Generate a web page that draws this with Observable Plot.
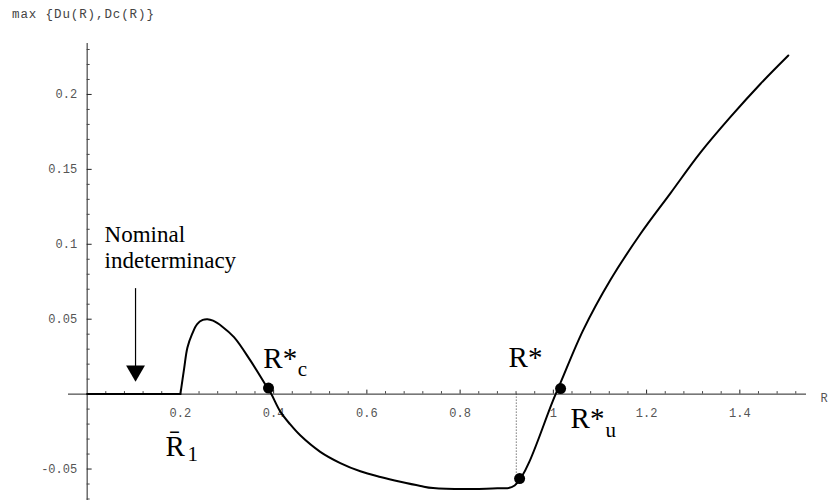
<!DOCTYPE html>
<html>
<head>
<meta charset="utf-8">
<script src="https://cdn.jsdelivr.net/npm/d3@7"></script>
<script src="https://cdn.jsdelivr.net/npm/@observablehq/plot@0.6"></script>
<style>
  html, body { margin: 0; padding: 0; background: #fff; }
  #wrap { position: relative; width: 833px; height: 502px; }
  #title { position: absolute; left: 12px; top: 7px; font-family: "Liberation Mono", "DejaVu Sans Mono", monospace; font-size: 12.5px; letter-spacing: 0.9px; color: #444; line-height: 16px; white-space: pre; }
</style>
</head>
<body>
<div id="wrap"><div id="title">max {Du(R),Dc(R)}</div></div>
<script>
// ---- data ----
const flatR = [0, 0.2];
const flatV = [0, 0];
const curveR = [0.2, 0.208, 0.215, 0.225, 0.236, 0.248, 0.258, 0.27, 0.29, 0.315, 0.35, 0.385, 0.395, 0.414, 0.435, 0.457, 0.5, 0.543, 0.586, 0.629, 0.672, 0.715, 0.742, 0.88, 0.917, 1.005, 1.064, 1.122, 1.187, 1.251, 1.315, 1.38, 1.444, 1.504];
const curveV = [0, 0.017, 0.031, 0.040, 0.0467, 0.0495, 0.050, 0.049, 0.045, 0.038, 0.0225, 0.005, 0, -0.0115, -0.020, -0.0275, -0.0385, -0.046, -0.0515, -0.0553, -0.0585, -0.0613, -0.0627, -0.0629, -0.061, 0, 0.0427, 0.076, 0.107, 0.134, 0.161, 0.185, 0.207, 0.226];

const pointR = [0.389, 0.9276, 1.0155];
const pointV = [0.004, -0.0564, 0.0037];

const xTickValues = [0.2, 0.4, 0.6, 0.8, 1, 1.2, 1.4];
const xTickLabels = ["0.2", "0.4", "0.6", "0.8", "1", "1.2", "1.4"];
const yTickValues = [-0.05, 0.05, 0.1, 0.15, 0.2];
const yTickLabels = ["-0.05", "0.05", "0.1", "0.15", "0.2"];

const labelText = ["Nominal", "indeterminacy", "R*", "R*", "R*", "R\u0304"];
const labelR    = [0.0373, 0.0373, 0.378, 0.904, 1.037, 0.168];
const labelV    = [0.1065, 0.0891, 0.0239, 0.0246, -0.0162, -0.0348];
const labelSize = [23, 23, 29, 29, 29, 29];

const subText = ["c", "u", "1"];
const subR    = [0.452, 1.112, 0.2154];
const subV    = [0.0168, -0.0244, -0.0401];

const dottedR = 0.9205;
const dottedBottom = -0.0608;
const arrowR = 0.1038;
const arrowTop = 0.0704;
const arrowHeadCenter = 0.0155;

// ---- layout ----
const W = 833, H = 502, mL = 68, mR = 27, mT = 43, mB = 2;
const xDom = [-0.04, 1.543], yDom = [-0.071, 0.234];
const kx = (xDom[1] - xDom[0]) / (W - mL - mR);   // data per px
const ky = (yDom[1] - yDom[0]) / (H - mT - mB);

const flat = flatR.map((r, i) => ({r, v: flatV[i]}));
const curve = curveR.map((r, i) => ({r, v: curveV[i]}));
const points = pointR.map((r, i) => ({r, v: pointV[i]}));
const labels = labelText.map((t, i) => ({t, r: labelR[i], v: labelV[i], s: labelSize[i]}));
const subs = subText.map((t, i) => ({t, r: subR[i], v: subV[i]}));
const xMinor = d3.range(1, 39).map(i => +(i * 0.04).toFixed(2)).filter(v => Math.abs(v / 0.2 - Math.round(v / 0.2)) > 1e-6);
const yMinor = d3.range(-7, 24).map(i => +(i * 0.01).toFixed(2)).filter(v => v !== 0 && Math.abs(v / 0.05 - Math.round(v / 0.05)) > 1e-6);

const mono = "Liberation Mono, DejaVu Sans Mono, monospace";
const serif = "Liberation Serif, Times New Roman, serif";

const chart = Plot.plot({
  width: W, height: H,
  marginLeft: mL, marginRight: mR, marginTop: mT, marginBottom: mB,
  x: {domain: xDom, axis: null},
  y: {domain: yDom, axis: null},
  style: {background: "transparent", overflow: "visible"},
  marks: [
    // axes
    Plot.ruleY([0], {stroke: "#222", strokeWidth: 1}),
    Plot.ruleX([0], {stroke: "#222", strokeWidth: 1}),
    Plot.ruleX(xTickValues, {x: d => d, y1: 0, y2: 4 * ky, stroke: "#222", strokeWidth: 1}),
    Plot.ruleX(xMinor, {x: d => d, y1: 0, y2: 2.5 * ky, stroke: "#444", strokeWidth: 1}),
    Plot.ruleY(yTickValues, {y: d => d, x1: 0, x2: 5 * kx, stroke: "#222", strokeWidth: 1}),
    Plot.ruleY(yMinor, {y: d => d, x1: 0, x2: 3 * kx, stroke: "#444", strokeWidth: 1}),
    Plot.text(xTickValues, {x: d => d, y: 0, text: (d, i) => xTickLabels[i], dy: 19, fontFamily: mono, fontSize: 12, fill: "#555", textAnchor: "middle", lineAnchor: "middle"}),
    Plot.text(yTickValues, {x: 0, y: d => d, text: (d, i) => yTickLabels[i], dx: -10, fontFamily: mono, fontSize: 12, fill: "#555", textAnchor: "end", lineAnchor: "middle"}),
    Plot.text(["R"], {x: xDom[1], y: 0, text: d => d, dx: 14, dy: 4, fontFamily: mono, fontSize: 12, fill: "#555", textAnchor: "start", lineAnchor: "middle"}),
    // dotted guide
    Plot.ruleX([dottedR], {x: d => d, y1: 0, y2: dottedBottom, stroke: "#333", strokeWidth: 1, strokeDasharray: "1,2"}),
    // curve
    Plot.line(flat, {x: "r", y: "v", stroke: "#000", strokeWidth: 2, curve: "linear"}),
    Plot.line(curve, {x: "r", y: "v", stroke: "#000", strokeWidth: 2, curve: "catmull-rom", strokeLinejoin: "round"}),
    Plot.dot(points, {x: "r", y: "v", r: 5.5, fill: "#000", stroke: "none"}),
    // arrow
    Plot.ruleX([arrowR], {x: d => d, y1: arrowTop, y2: arrowHeadCenter, stroke: "#000", strokeWidth: 1.2}),
    Plot.dot([arrowR], {x: d => d, y: arrowHeadCenter, symbol: "triangle", r: 7, fill: "#000", stroke: "none", rotate: 180}),
    // annotations
    Plot.text(labels, {x: "r", y: "v", text: "t", fontSize: d => d.s, fontFamily: serif, fill: "#000", textAnchor: "start", lineAnchor: "middle"}),
    Plot.text(subs, {x: "r", y: "v", text: "t", fontSize: 21, fontFamily: serif, fill: "#000", textAnchor: "start", lineAnchor: "middle"})
  ]
});
document.getElementById("wrap").appendChild(chart);
</script>
</body>
</html>
